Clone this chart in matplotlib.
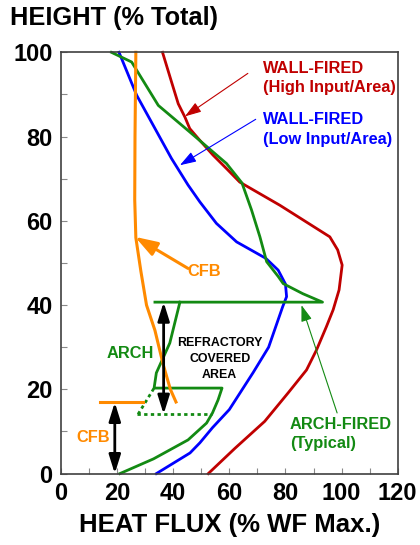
import matplotlib
matplotlib.use("Agg")
import matplotlib.pyplot as plt
from matplotlib.patches import ArrowStyle

plt.rcParams["font.family"] = ["Liberation Sans", "DejaVu Sans"]
plt.rcParams["font.weight"] = "bold"

RED = "#c00000"
BLUE = "#0000ff"
GREEN = "#138a13"
ORANGE = "#ff8a00"

# wall-fired, high input/area (heat flux %, height %)
wall_high_x = [52.5, 62, 72.6, 81, 87.5, 91.1, 94.6, 97, 99.1, 100.2, 98.6, 95.8, 78, 63.7,
               59, 54.2, 49.5, 45.9, 44.2, 41.8, 39.4, 36.2]
wall_high_y = [0, 6, 12.4, 19.2, 24.6, 29.4, 34.9, 38.9, 43.6, 49.5, 53.1, 56.2, 63.7, 69.2,
               72.4, 75.6, 79.1, 81.9, 84.6, 87.8, 93, 100]

# wall-fired, low input/area
wall_low_x = [34, 46, 49.5, 54, 60, 68.5, 74, 79, 80.4, 80, 77.4, 73, 62.6, 55.4, 49.5, 45.3, 39.4, 27, 20.7]
wall_low_y = [0, 4.9, 7.3, 10.9, 15.2, 24, 30, 39.6, 42, 45, 48.3, 51.1, 55, 59.4, 64.5, 68.5, 74.8, 89.8, 100]

# arch-fired (typical): lower part incl. arch, top ledge, upper part
arch_low_x = [21, 33, 45.3, 51.9, 54, 56, 57.4, 33.2, 34, 38.8, 42.4]
arch_low_y = [0, 3.5, 8, 12, 14.4, 17.5, 20.3, 20.3, 23.9, 31, 40.7]
arch_up_x = [33.5, 93.2, 86.2, 79.2, 77.4, 73.3, 70.9, 67.9, 64.5, 59, 45.9, 34.7, 25.2, 18]
arch_up_y = [40.7, 40.7, 42.7, 45.1, 46.8, 50.3, 56.2, 62.6, 69, 73.6, 81.1, 87.4, 97.7, 100]
arch_dot_x = [27, 53.7]
arch_dot_y = [14.1, 14.1]
arch_dot2_x = [27.5, 33.2]
arch_dot2_y = [14.1, 20.3]

# CFB
cfb_x = [26.7, 26.4, 26.3, 26.7, 28.5, 30.5, 33.5, 36.4, 39, 41]
cfb_y = [100, 80, 65, 56, 48, 40, 34, 26, 20, 17]
cfb_ledge_x = [13.9, 29.3]
cfb_ledge_y = [16.9, 16.9]

fig = plt.figure(figsize=(4.2, 5.45), dpi=100)
ax = fig.add_axes([0.145, 0.131, 0.802, 0.773])

lw = 2.0
ax.plot(wall_high_x, wall_high_y, color=RED, lw=lw, clip_on=False)
ax.plot(wall_low_x, wall_low_y, color=BLUE, lw=lw, clip_on=False)
ax.plot(arch_low_x, arch_low_y, color=GREEN, lw=lw, clip_on=False)
ax.plot(arch_up_x, arch_up_y, color=GREEN, lw=lw, clip_on=False)
ax.plot(arch_dot_x, arch_dot_y, color=GREEN, lw=lw, ls=(0, (1.2, 1.2)))
ax.plot(arch_dot2_x, arch_dot2_y, color=GREEN, lw=lw, ls=(0, (1.2, 1.2)))
ax.plot(cfb_x, cfb_y, color=ORANGE, lw=2.2, clip_on=False)
ax.plot(cfb_ledge_x, cfb_ledge_y, color=ORANGE, lw=2.2)

# double-headed height arrows
big = ArrowStyle("<|-|>", head_length=0.8, head_width=0.25)
ax.annotate("", xy=(36.6, 40.7), xytext=(36.6, 14.1),
            arrowprops=dict(arrowstyle=big, color="black", lw=2, mutation_scale=14,
                            shrinkA=0, shrinkB=0))
ax.annotate("", xy=(19.2, 16.9), xytext=(19.2, 0),
            arrowprops=dict(arrowstyle=big, color="black", lw=2, mutation_scale=14,
                            shrinkA=0, shrinkB=0), annotation_clip=False)

# labels with pointers
thin = ArrowStyle("-|>", head_length=0.9, head_width=0.3)
ax.annotate("", xy=(44.2, 84.8), xytext=(66.6, 95),
            arrowprops=dict(arrowstyle=thin, color=RED, lw=0.8, mutation_scale=11,
                            shrinkA=0, shrinkB=0))
ax.annotate("", xy=(42.4, 73.2), xytext=(69.4, 84.1),
            arrowprops=dict(arrowstyle=thin, color=BLUE, lw=0.8, mutation_scale=11,
                            shrinkA=0, shrinkB=0))
ax.annotate("", xy=(85.7, 40), xytext=(98.4, 14.4),
            arrowprops=dict(arrowstyle=thin, color=GREEN, lw=0.8, mutation_scale=11,
                            shrinkA=0, shrinkB=0))
ax.annotate("", xy=(26.4, 56.2), xytext=(45.3, 48.7),
            arrowprops=dict(arrowstyle=ArrowStyle("-|>", head_length=0.9, head_width=0.3),
                            color=ORANGE, lw=2.2, mutation_scale=15, shrinkA=0, shrinkB=0))

fs = 11.8
ax.text(72, 93.9, "WALL-FIRED\n(High Input/Area)", color=RED, fontsize=fs,
        fontweight="bold", va="center", ha="left", linespacing=1.4)
ax.text(72, 81.6, "WALL-FIRED\n(Low Input/Area)", color=BLUE, fontsize=fs,
        fontweight="bold", va="center", ha="left", linespacing=1.4)
ax.text(81.6, 9.4, "ARCH-FIRED\n(Typical)", color=GREEN, fontsize=fs,
        fontweight="bold", va="center", ha="left", linespacing=1.4)
ax.text(56.6, 27.2, "REFRACTORY\nCOVERED\nAREA", color="black", fontsize=8.9,
        fontweight="bold", va="center", ha="center", linespacing=1.4)
ax.text(24.6, 28.5, "ARCH", color=GREEN, fontsize=fs, fontweight="bold",
        va="center", ha="center")
ax.text(50.9, 47.9, "CFB", color=ORANGE, fontsize=fs, fontweight="bold",
        va="center", ha="center")
ax.text(11.5, 8.6, "CFB", color=ORANGE, fontsize=fs, fontweight="bold",
        va="center", ha="center")

ax.set_xlim(0, 120)
ax.set_ylim(0, 100)
ax.set_xticks([0, 20, 40, 60, 80, 100, 120])
ax.set_yticks([0, 20, 40, 60, 80, 100])
ax.set_xticks(range(10, 120, 20), minor=True)
ax.set_yticks(range(10, 100, 20), minor=True)
ax.tick_params(which="both", direction="in", length=4, width=0.8, color="#888888",
               labelsize=17, pad=6)
for lab in ax.get_xticklabels() + ax.get_yticklabels():
    lab.set_fontweight("bold")
for s in ax.spines.values():
    s.set_color("#404040")
    s.set_linewidth(1.2)

ax.set_xlabel("HEAT FLUX (% WF Max.)", fontsize=18.5, fontweight="bold", labelpad=6)
fig.text(0.024, 0.967, "HEIGHT (% Total)", fontsize=18.3, fontweight="bold",
         ha="left", va="center")

fig.savefig("out.png", dpi=100)
